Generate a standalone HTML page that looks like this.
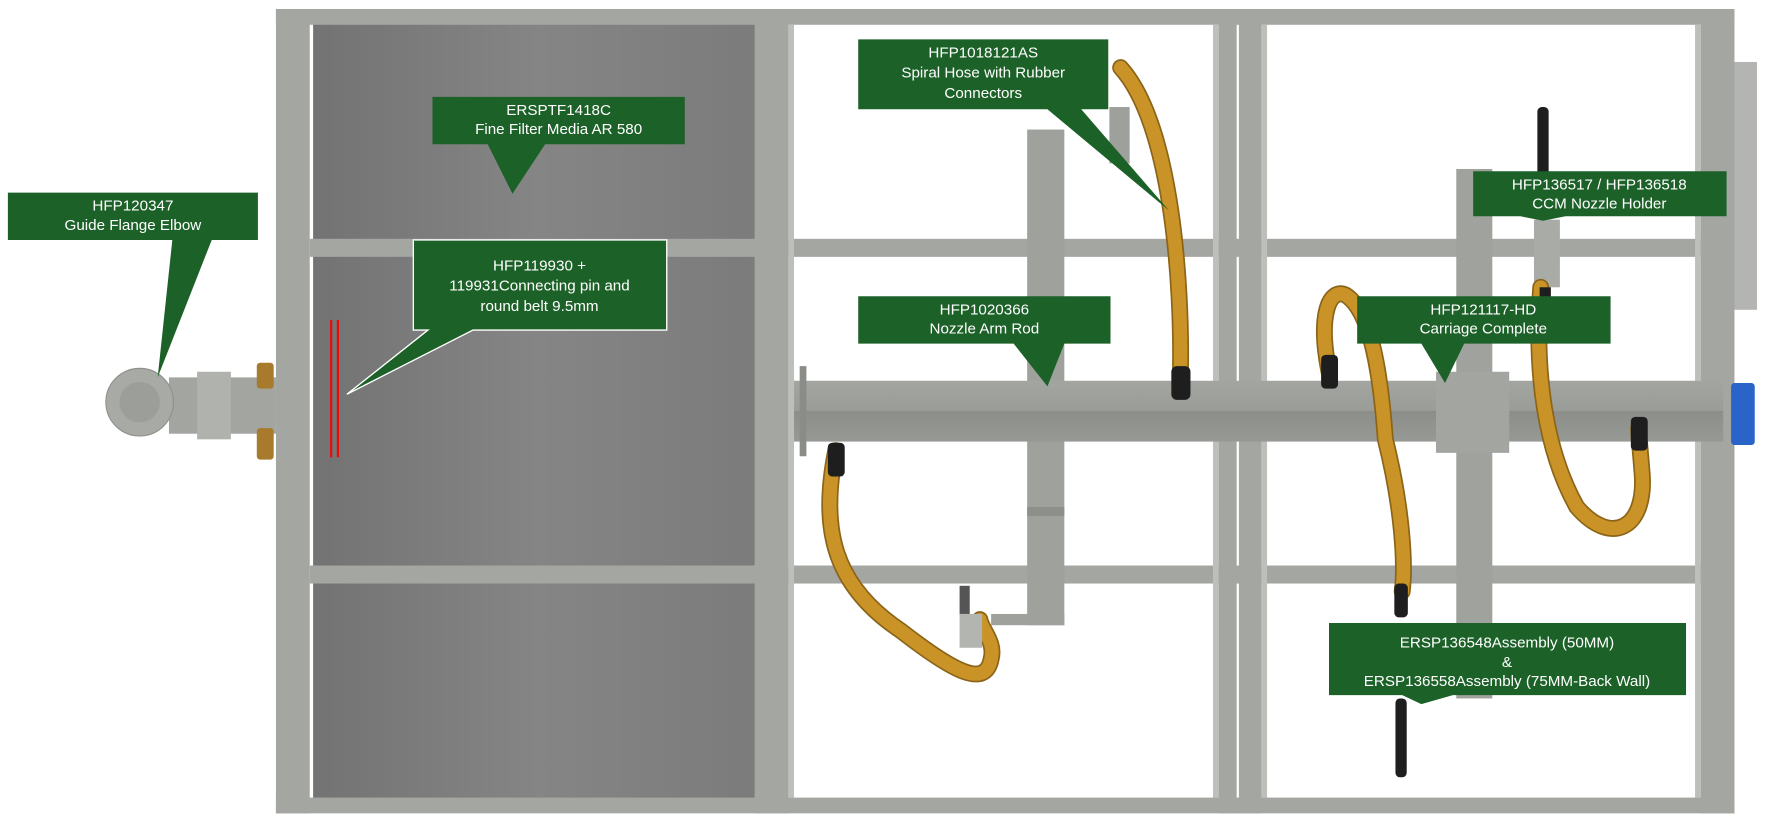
<!DOCTYPE html>
<html><head><meta charset="utf-8"><style>
html,body{margin:0;padding:0;background:#fff;}
svg{display:block;}
text{font-family:"Liberation Sans",Arial,sans-serif;fill:#fff;font-size:13.5px;text-anchor:middle;}
</style></head><body>
<svg width="1766" height="828" viewBox="0 0 1568 735" preserveAspectRatio="none" xmlns="http://www.w3.org/2000/svg">
<defs>
<linearGradient id="pan" x1="0" y1="0" x2="1" y2="0">
<stop offset="0" stop-color="#737373"/><stop offset="0.5" stop-color="#858585"/><stop offset="1" stop-color="#7b7b7b"/>
</linearGradient>
<linearGradient id="rod" x1="0" y1="0" x2="0" y2="1">
<stop offset="0" stop-color="#a3a5a1"/><stop offset="0.5" stop-color="#9a9c98"/><stop offset="0.5" stop-color="#8c8e8a"/><stop offset="1" stop-color="#979995"/>
</linearGradient>
</defs>
<rect x="278" y="20" width="400" height="695" fill="url(#pan)"/>
<rect x="1536" y="55" width="24" height="220" fill="#b4b5b3"/>
<g fill="#a4a6a2">
<rect x="245" y="8" width="1295" height="14"/>
<rect x="245" y="708" width="1295" height="14"/>
<rect x="245" y="8" width="30" height="714"/>
<rect x="670" y="8" width="30" height="714"/>
<rect x="1082" y="8" width="16" height="714"/>
<rect x="1100" y="8" width="20" height="714"/>
<rect x="1510" y="8" width="30" height="714"/>
<rect x="275" y="212" width="1240" height="16"/>
<rect x="275" y="502" width="1240" height="16"/>
</g>
<g fill="#bdbfbb">
<rect x="700" y="22" width="5" height="686"/>
<rect x="1077" y="22" width="5" height="686"/>
<rect x="1120" y="22" width="5" height="686"/>
<rect x="1505" y="22" width="5" height="686"/>
</g>
<rect x="912" y="115" width="33" height="440" fill="#9fa19d"/>
<rect x="880" y="545" width="65" height="10" fill="#9fa19d"/>
<rect x="912" y="450" width="33" height="8" fill="#8d8f8b"/>
<rect x="1293" y="150" width="32" height="470" fill="#a0a29e"/>
<rect x="1362" y="195" width="23" height="60" fill="#a9aba7"/>
<rect x="705" y="338" width="825" height="54" fill="url(#rod)"/>
<rect x="1275" y="330" width="65" height="72" fill="#a3a5a1"/>
<rect x="710" y="325" width="6" height="80" fill="#8a8c88"/>
<rect x="1537" y="340" width="21" height="55" rx="3" fill="#2a64c8"/>
<g fill="none" stroke-linecap="round">
<g stroke="#8a6418" stroke-width="15">
<path d="M1048,335 C1050,250 1040,110 995,60"/>
<path d="M742,400 C728,470 740,520 800,560 C845,595 875,612 880,585 C884,570 872,560 870,550"/>
<path d="M1180,330 C1170,280 1180,255 1195,262 C1215,275 1225,320 1230,390 C1245,450 1248,500 1245,525"/>
<path d="M1368,255 C1362,330 1372,400 1400,450 C1430,485 1462,470 1458,420 C1456,395 1455,388 1455,380"/>
</g>
<g stroke="#c99327" stroke-width="12">
<path d="M1048,335 C1050,250 1040,110 995,60"/>
<path d="M742,400 C728,470 740,520 800,560 C845,595 875,612 880,585 C884,570 872,560 870,550"/>
<path d="M1180,330 C1170,280 1180,255 1195,262 C1215,275 1225,320 1230,390 C1245,450 1248,500 1245,525"/>
<path d="M1368,255 C1362,330 1372,400 1400,450 C1430,485 1462,470 1458,420 C1456,395 1455,388 1455,380"/>
</g>
</g>
<g fill="#1e1e1e">
<rect x="1040" y="325" width="17" height="30" rx="5"/>
<rect x="735" y="393" width="15" height="30" rx="4"/>
<rect x="1173" y="315" width="15" height="30" rx="4"/>
<rect x="1448" y="370" width="15" height="30" rx="4"/>
<rect x="1365" y="95" width="10" height="75" rx="4"/>
<rect x="1238" y="518" width="12" height="30" rx="4"/>
<rect x="1239" y="620" width="10" height="70" rx="4"/>
<rect x="1367" y="255" width="10" height="18"/>
</g>
<rect x="985" y="95" width="18" height="50" fill="#9ea09c"/>
<rect x="852" y="520" width="9" height="25" fill="#555"/>
<rect x="852" y="545" width="20" height="30" fill="#b3b5b1"/>
<rect x="150" y="335" width="95" height="50" fill="#a3a5a1"/>
<rect x="175" y="330" width="30" height="60" fill="#b0b2ae"/>
<circle cx="124" cy="357" r="30" fill="#a8aaa6" stroke="#8e908c"/>
<circle cx="124" cy="357" r="18" fill="#9c9e9a"/>
<rect x="228" y="322" width="15" height="23" rx="3" fill="#a87a2c"/>
<rect x="228" y="380" width="15" height="28" rx="3" fill="#a87a2c"/>
<rect x="293" y="284" width="2" height="122" fill="#e01010"/>
<rect x="299" y="284" width="2" height="122" fill="#e01010"/>
<g fill="#1c6128">
<polygon points="7,171 229,171 229,213 188,213 140,335 153,213 7,213"/>
<polygon points="384,86 608,86 608,128 484,128 455,172 433,128 384,128"/>
<polygon points="367,213 592,213 592,293 420,293 308,350 380,293 367,293" stroke="#fff" stroke-width="1.2"/>
<polygon points="762,35 984,35 984,97 960,97 1038,187 930,97 762,97"/>
<polygon points="762,263 986,263 986,305 945,305 930,343 900,305 762,305"/>
<polygon points="1308,152 1533,152 1533,192 1390,192 1370,196 1350,192 1308,192"/>
<polygon points="1205,263 1430,263 1430,305 1300,305 1283,340 1262,305 1205,305"/>
<polygon points="1180,553 1497,553 1497,617 1290,617 1262,625 1245,617 1180,617"/>
</g>
<text x="118" y="187">HFP120347</text>
<text x="118" y="204">Guide Flange Elbow</text>
<text x="496" y="102">ERSPTF1418C</text>
<text x="496" y="119">Fine Filter Media AR 580</text>
<text x="479" y="240">HFP119930 +</text>
<text x="479" y="258">119931Connecting pin and</text>
<text x="479" y="276">round belt 9.5mm</text>
<text x="873" y="51">HFP1018121AS</text>
<text x="873" y="69">Spiral Hose with Rubber</text>
<text x="873" y="87">Connectors</text>
<text x="874" y="279">HFP1020366</text>
<text x="874" y="296">Nozzle Arm Rod</text>
<text x="1420" y="168">HFP136517 / HFP136518</text>
<text x="1420" y="185">CCM Nozzle Holder</text>
<text x="1317" y="279">HFP121117-HD</text>
<text x="1317" y="296">Carriage Complete</text>
<text x="1338" y="575">ERSP136548Assembly (50MM)</text>
<text x="1338" y="592">&amp;</text>
<text x="1338" y="609">ERSP136558Assembly (75MM-Back Wall)</text>
</svg>
</body></html>
